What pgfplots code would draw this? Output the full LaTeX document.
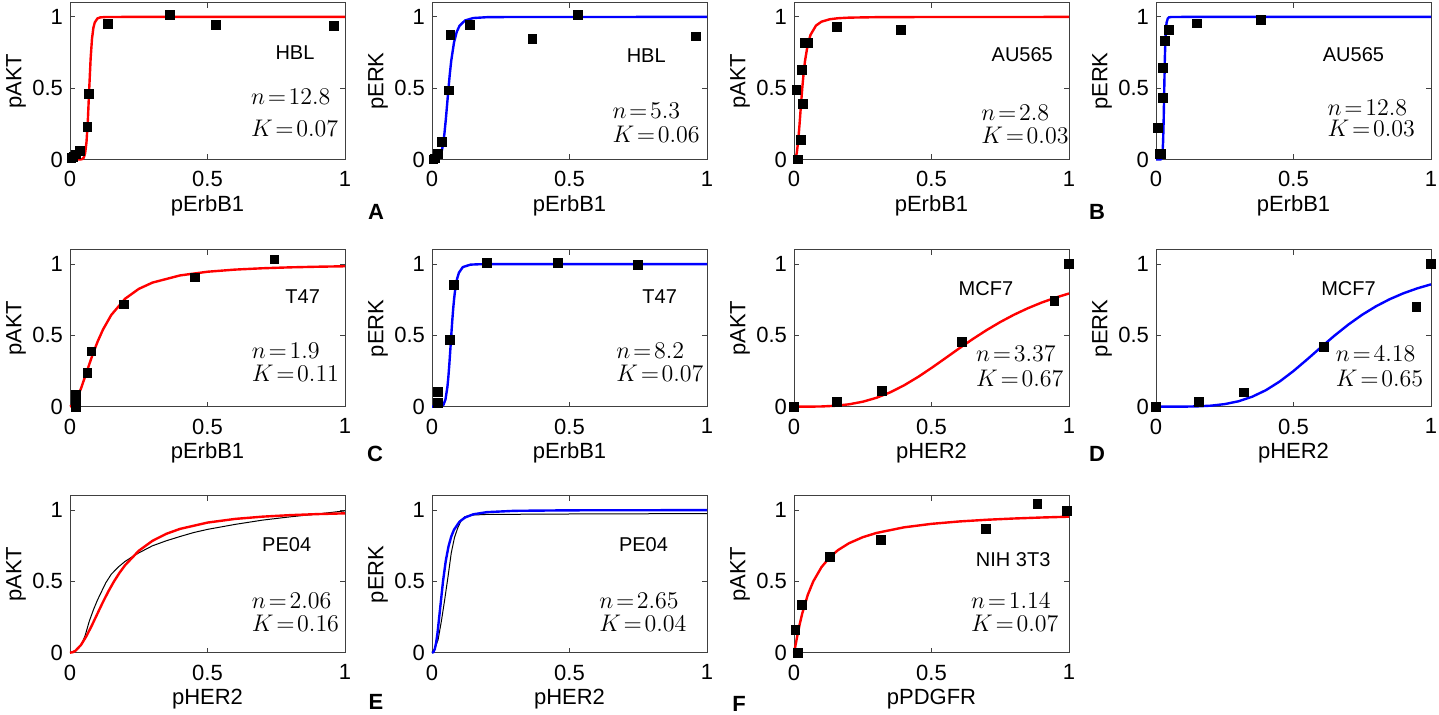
\documentclass[border=0pt]{standalone}
\usepackage{fontspec}
\setmainfont{Liberation Sans}
\usepackage{pgfplots}
\pgfplotsset{compat=1.18}

\newcommand{\lab}[3]{\node[anchor=base,font=\fontsize{10}{12}\selectfont] at (axis cs:#1,#2) {#3};}
\newcommand{\nk}[5]{%
  \node[anchor=base west,inner sep=0pt,font=\fontsize{12}{14}\selectfont] at (axis cs:#1,#2) {$n\mkern2mu{=}\mkern2mu#4$};%
  \node[anchor=base west,inner sep=0pt,font=\fontsize{12}{14}\selectfont] at (axis cs:#1,#3) {$K\mkern2mu{=}\mkern2mu#5$};}

\pgfplotsset{
  panel/.style={
    scale only axis, width=137.5pt, height=78.4pt, anchor=south west,
    xmin=0, xmax=1, ymin=0, ymax=1.1,
    xtick={0,0.5,1}, ytick={0,0.5,1},
    tick align=inside, major tick length=2.5pt,
    axis line style={black!75, line width=0.5pt},
    tick style={black!75, line width=0.5pt},
    tick label style={font=\fontsize{11}{13}\selectfont},
    /pgf/number format/assume math mode=true,
    xticklabel style={yshift=-2.5pt},
    clip=false,
    label style={font=\fontsize{11}{13}\selectfont},
    x label style={at={(axis description cs:0.5,-0.332)}, anchor=base},
    y label style={at={(axis description cs:-0.196,0.5)}, anchor=center},
  },
  pts/.style={only marks, mark=square*, mark size=2.2pt, mark options={black, fill=black}},
  redc/.style={no marks, red, line width=1.2pt},
  bluec/.style={no marks, blue, line width=1.2pt},
  blackc/.style={no marks, black, line width=0.5pt},
}

\begin{document}
\begin{tikzpicture}
\path[use as bounding box] (0,0) rectangle (719.5pt,357.5pt);

% ---------- Row 1 ----------
\begin{axis}[panel, at={(35pt,277.75pt)}, xlabel={pErbB1}, ylabel={pAKT}]
\addplot[redc] coordinates {(0,0)(0.03,0.0000)(0.04,0.0008)(0.045,0.0035)(0.05,0.0133)(0.055,0.0436)(0.06,0.122)(0.065,0.279)(0.07,0.5)(0.075,0.707)(0.08,0.847)(0.085,0.923)(0.09,0.961)(0.1,0.9897)(0.11,0.9969)(0.13,0.9996)(0.2,1)(1,1)};
\addplot[pts] coordinates {(0.005,0.01)(0.012,0.02)(0.022,0.035)(0.036,0.06)(0.063,0.23)(0.070,0.46)(0.139,0.953)(0.364,1.016)(0.531,0.946)(0.961,0.939)};
\lab{0.818}{0.70}{HBL}
\nk{0.657}{0.383}{0.16}{12.8}{0.07}
\end{axis}

\begin{axis}[panel, at={(216pt,277.75pt)}, xlabel={pErbB1}, ylabel={pERK}]
\addplot[bluec] coordinates {(0,0)(0.01,0.0001)(0.02,0.003)(0.03,0.0248)(0.035,0.0543)(0.04,0.1044)(0.045,0.1788)(0.05,0.2756)(0.055,0.3867)(0.06,0.5)(0.065,0.6045)(0.07,0.6936)(0.08,0.8212)(0.09,0.8956)(0.1,0.9375)(0.12,0.9752)(0.15,0.9923)(0.2,0.9983)(0.3,0.9998)(1,1)};
\addplot[pts] coordinates {(0.005,0.0)(0.01,0.007)(0.022,0.038)(0.036,0.124)(0.062,0.484)(0.067,0.876)(0.137,0.946)(0.365,0.845)(0.531,1.016)(0.961,0.864)};
\lab{0.779}{0.68}{HBL}
\nk{0.655}{0.289}{0.117}{5.3}{0.06}
\end{axis}

\begin{axis}[panel, at={(397pt,277.75pt)}, xlabel={pErbB1}, ylabel={pAKT}]
\addplot[redc] coordinates {(0,0)(0.005,0.0066)(0.01,0.0441)(0.015,0.1256)(0.02,0.2432)(0.025,0.3751)(0.03,0.5)(0.035,0.6063)(0.04,0.6912)(0.05,0.8069)(0.06,0.8744)(0.08,0.9397)(0.1,0.9668)(0.13,0.9838)(0.16,0.9909)(0.2,0.9951)(0.3,0.9984)(0.5,0.9996)(1,1)};
\addplot[pts] coordinates {(0.013,0.0)(0.009,0.49)(0.028,0.63)(0.025,0.14)(0.032,0.39)(0.040,0.82)(0.052,0.82)(0.155,0.93)(0.388,0.91)};
\lab{0.83}{0.688}{AU565}
\nk{0.68}{0.277}{0.113}{2.8}{0.03}
\end{axis}

\begin{axis}[panel, at={(578pt,277.75pt)}, xlabel={pErbB1}, ylabel={pERK}]
\addplot[bluec] coordinates {(0,0)(0.0129,0.0000)(0.0171,0.0008)(0.0193,0.0035)(0.0214,0.0133)(0.0236,0.0436)(0.0257,0.122)(0.0279,0.279)(0.03,0.5)(0.0321,0.707)(0.0343,0.847)(0.0364,0.923)(0.0386,0.961)(0.0429,0.9897)(0.0471,0.9969)(0.0557,0.9996)(0.1,1)(1,1)};
\addplot[pts] coordinates {(0.006,0.22)(0.013,0.04)(0.019,0.04)(0.025,0.43)(0.025,0.64)(0.032,0.83)(0.047,0.91)(0.149,0.955)(0.38,0.98)};
\lab{0.718}{0.688}{AU565}
\nk{0.623}{0.312}{0.16}{12.8}{0.03}
\end{axis}

% ---------- Row 2 ----------
\begin{axis}[panel, at={(35pt,154.15pt)}, xlabel={pErbB1}, ylabel={pAKT}]
\addplot[redc] coordinates {(0,0)(0.01,0.0104)(0.02,0.0377)(0.04,0.1276)(0.06,0.2402)(0.08,0.3532)(0.1,0.4548)(0.12,0.5412)(0.15,0.6432)(0.2,0.7569)(0.25,0.8263)(0.3,0.8706)(0.4,0.9208)(0.5,0.9467)(0.6,0.9617)(0.7,0.9711)(0.8,0.9775)(0.9,0.9819)(1,0.9851)};
\addplot[pts] coordinates {(0.02,0.0)(0.02,0.045)(0.02,0.085)(0.063,0.238)(0.078,0.388)(0.196,0.718)(0.454,0.907)(0.743,1.033)};
\lab{0.846}{0.724}{T47}
\nk{0.66}{0.339}{0.175}{1.9}{0.11}
\end{axis}

\begin{axis}[panel, at={(216pt,154.15pt)}, xlabel={pErbB1}, ylabel={pERK}]
\addplot[bluec] coordinates {(0,0)(0.02,0.0000)(0.035,0.0034)(0.042,0.0149)(0.049,0.051)(0.056,0.1382)(0.0595,0.2087)(0.063,0.2965)(0.0665,0.3964)(0.07,0.5)(0.0735,0.5987)(0.077,0.686)(0.0805,0.7588)(0.084,0.8169)(0.091,0.8958)(0.098,0.9404)(0.112,0.9793)(0.14,0.9966)(0.175,0.9995)(0.3,1)(1,1)};
\addplot[pts] coordinates {(0.022,0.105)(0.022,0.028)(0.064,0.47)(0.079,0.853)(0.2,1.009)(0.458,1.009)(0.749,0.993)};
\lab{0.828}{0.724}{T47}
\nk{0.669}{0.339}{0.175}{8.2}{0.07}
\end{axis}

\begin{axis}[panel, at={(397pt,154.15pt)}, xlabel={pHER2}, ylabel={pAKT}]
\addplot[redc] coordinates {(0,0)(0.05,0.0002)(0.1,0.0016)(0.15,0.0064)(0.2,0.0167)(0.25,0.0348)(0.3,0.0625)(0.35,0.1008)(0.4,0.1495)(0.45,0.2073)(0.5,0.2717)(0.55,0.3396)(0.6,0.4081)(0.65,0.4745)(0.7,0.5368)(0.75,0.5939)(0.8,0.6451)(0.85,0.6904)(0.9,0.73)(0.95,0.7644)(1,0.7941)};
\addplot[pts] coordinates {(0,0)(0.156,0.035)(0.319,0.112)(0.61,0.456)(0.947,0.741)(1.0,1.0)};
\lab{0.698}{0.783}{MCF7}
\nk{0.661}{0.315}{0.14}{3.37}{0.67}
\end{axis}

\begin{axis}[panel, at={(578pt,154.15pt)}, xlabel={pHER2}, ylabel={pERK}]
\addplot[bluec] coordinates {(0,0)(0.05,0.0)(0.1,0.0004)(0.15,0.0022)(0.2,0.0072)(0.25,0.0181)(0.3,0.038)(0.35,0.07)(0.4,0.1162)(0.45,0.177)(0.5,0.2504)(0.55,0.3323)(0.6,0.4172)(0.65,0.5)(0.7,0.5768)(0.75,0.6453)(0.8,0.7044)(0.85,0.7543)(0.9,0.7958)(0.95,0.8301)(1,0.8582)};
\addplot[pts] coordinates {(0,0)(0.157,0.035)(0.32,0.10)(0.61,0.42)(0.947,0.70)(1.0,1.0)};
\lab{0.70}{0.783}{MCF7}
\nk{0.653}{0.315}{0.14}{4.18}{0.65}
\end{axis}

% ---------- Row 3 ----------
\begin{axis}[panel, at={(35pt,31.15pt)}, xlabel={pHER2}, ylabel={pAKT}]
\addplot[blackc] coordinates {(0,0)(0.02,0.015)(0.04,0.05)(0.055,0.12)(0.07,0.22)(0.085,0.30)(0.1,0.37)(0.115,0.43)(0.13,0.49)(0.15,0.55)(0.175,0.60)(0.2,0.64)(0.22,0.665)(0.25,0.70)(0.3,0.75)(0.35,0.785)(0.4,0.815)(0.45,0.843)(0.5,0.865)(0.6,0.90)(0.7,0.93)(0.8,0.953)(0.9,0.973)(1,0.995)};
\addplot[redc] coordinates {(0,0)(0.01,0.0033)(0.02,0.0136)(0.04,0.0544)(0.06,0.1171)(0.08,0.1934)(0.1,0.2752)(0.12,0.3561)(0.14,0.4317)(0.16,0.5)(0.18,0.5604)(0.2,0.613)(0.25,0.7149)(0.3,0.785)(0.35,0.8338)(0.4,0.8685)(0.5,0.9127)(0.6,0.9384)(0.7,0.9544)(0.8,0.965)(0.9,0.9723)(1,0.9776)};
\lab{0.788}{0.708}{PE04}
\nk{0.66}{0.311}{0.147}{2.06}{0.16}
\end{axis}

\begin{axis}[panel, at={(216pt,31.15pt)}, xlabel={pHER2}, ylabel={pERK}]
\addplot[blackc] coordinates {(0,0)(0.01,0.03)(0.022,0.09)(0.034,0.22)(0.046,0.37)(0.058,0.53)(0.07,0.70)(0.082,0.81)(0.0945,0.88)(0.107,0.93)(0.119,0.953)(0.14,0.965)(0.2,0.97)(0.5,0.973)(1,0.976)};
\addplot[bluec] coordinates {(0,0)(0.005,0.004)(0.01,0.0248)(0.015,0.0692)(0.02,0.1374)(0.03,0.3182)(0.04,0.5)(0.05,0.6437)(0.06,0.7455)(0.07,0.815)(0.08,0.8626)(0.1,0.919)(0.12,0.9484)(0.15,0.9708)(0.2,0.9861)(0.3,0.9952)(0.5,0.9988)(0.7,0.9995)(1,0.9998)};
\lab{0.769}{0.708}{PE04}
\nk{0.607}{0.311}{0.147}{2.65}{0.04}
\end{axis}

\begin{axis}[panel, at={(397pt,31.15pt)}, xlabel={pPDGFR}, ylabel={pAKT}]
\addplot[redc] coordinates {(0,0)(0.005,0.0471)(0.01,0.0981)(0.02,0.1934)(0.03,0.2757)(0.05,0.4053)(0.07,0.5)(0.1,0.6003)(0.13,0.6695)(0.16,0.7196)(0.2,0.768)(0.25,0.8102)(0.3,0.8401)(0.4,0.8794)(0.5,0.9039)(0.6,0.9205)(0.7,0.9325)(0.8,0.9414)(0.9,0.9484)(1,0.954)};
\addplot[pts] coordinates {(0.005,0.16)(0.013,0.0)(0.03,0.334)(0.13,0.673)(0.317,0.794)(0.697,0.871)(0.885,1.042)(0.992,0.995)};
\lab{0.797}{0.603}{NIH 3T3}
\nk{0.643}{0.311}{0.147}{1.14}{0.07}
\end{axis}

% panel letters
\node[font=\bfseries\fontsize{11}{13}\selectfont] at (188pt,251.5pt) {A};
\node[font=\bfseries\fontsize{11}{13}\selectfont] at (548.5pt,251.5pt) {B};
\node[font=\bfseries\fontsize{11}{13}\selectfont] at (187.5pt,130.5pt) {C};
\node[font=\bfseries\fontsize{11}{13}\selectfont] at (548.5pt,130.5pt) {D};
\node[font=\bfseries\fontsize{11}{13}\selectfont] at (188pt,6.5pt) {E};
\node[font=\bfseries\fontsize{11}{13}\selectfont] at (369.5pt,5.5pt) {F};
\end{tikzpicture}
\end{document}
